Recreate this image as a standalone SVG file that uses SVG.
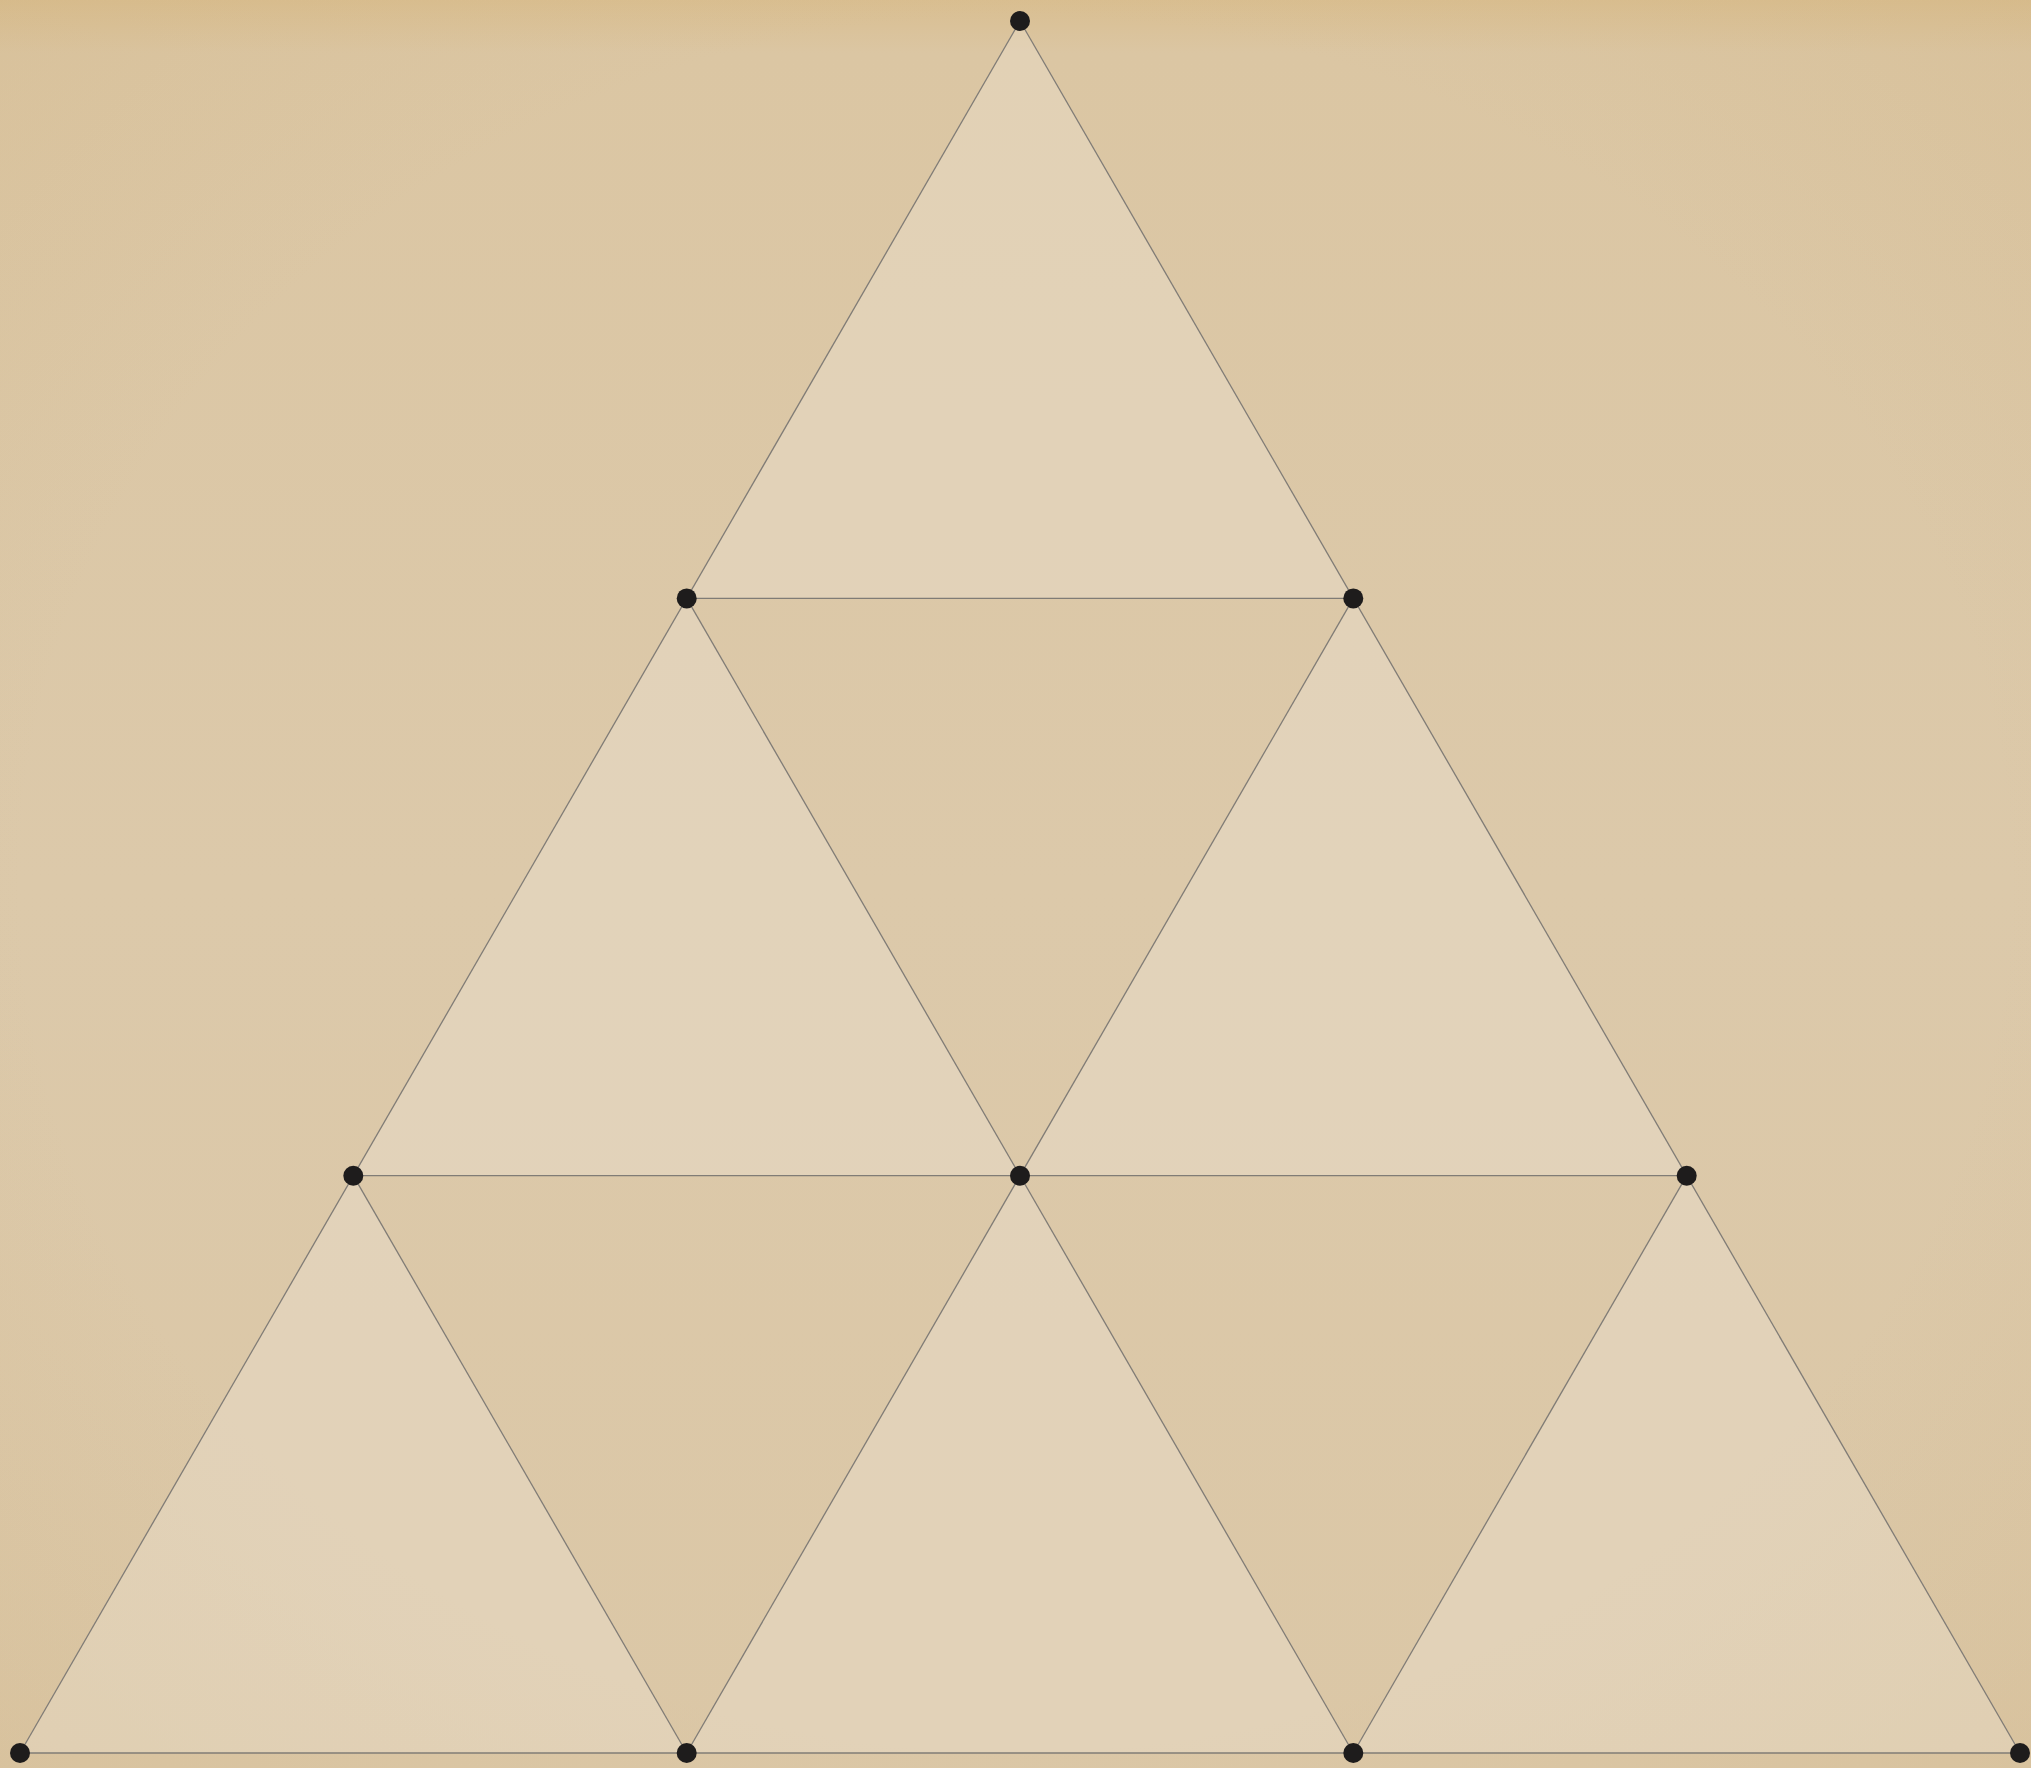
<svg xmlns="http://www.w3.org/2000/svg" width="2031" height="1768" viewBox="0 0 2031 1768">
<defs>
<linearGradient id="bg" x1="0" y1="0" x2="0" y2="1">
<stop offset="0" stop-color="#d9be90"/>
<stop offset="0.03" stop-color="#dbc6a3"/>
<stop offset="0.5" stop-color="#dcc9aa"/>
<stop offset="1" stop-color="#dbc7a6"/>
</linearGradient>
<radialGradient id="vig" cx="0.5" cy="0.5" r="0.75">
<stop offset="0.65" stop-color="#c9a870" stop-opacity="0"/>
<stop offset="1" stop-color="#c9a870" stop-opacity="0.18"/>
</radialGradient>
</defs>
<style>
.up{fill:#f2ece0;fill-opacity:0.3;stroke:none}
.e{stroke:#807c76;stroke-width:1.3;fill:none}
.n{fill:#1e1c1c}
</style>
<rect width="2031" height="1768" fill="url(#bg)"/>
<rect width="2031" height="1768" fill="url(#vig)"/>
<g id="faces">
<polygon class="up" points="1020,21 686.7,598.4 1353.3,598.4"/>
<polygon class="up" points="686.7,598.4 353.3,1175.7 1020,1175.7"/>
<polygon class="up" points="1353.3,598.4 1020,1175.7 1686.7,1175.7"/>
<polygon class="up" points="353.3,1175.7 20,1753 686.7,1753"/>
<polygon class="up" points="1020,1175.7 686.7,1753 1353.3,1753"/>
<polygon class="up" points="1686.7,1175.7 1353.3,1753 2020,1753"/>
</g>
<g id="connectors">
<line class="e" x1="1020" y1="21" x2="20" y2="1753"/>
<line class="e" x1="1020" y1="21" x2="2020" y2="1753"/>
<line class="e" x1="20" y1="1753" x2="2020" y2="1753"/>
<line class="e" x1="686.7" y1="598.4" x2="1353.3" y2="598.4"/>
<line class="e" x1="353.3" y1="1175.7" x2="1686.7" y2="1175.7"/>
<line class="e" x1="686.7" y1="598.4" x2="1353.3" y2="1753"/>
<line class="e" x1="1353.3" y1="598.4" x2="686.7" y2="1753"/>
<line class="e" x1="353.3" y1="1175.7" x2="686.7" y2="1753"/>
<line class="e" x1="1686.7" y1="1175.7" x2="1353.3" y2="1753"/>
</g>
<g id="node-0"><circle class="n" cx="1020" cy="21" r="10"/></g>
<g id="node-1"><circle class="n" cx="686.7" cy="598.4" r="10"/></g>
<g id="node-2"><circle class="n" cx="1353.3" cy="598.4" r="10"/></g>
<g id="node-3"><circle class="n" cx="353.3" cy="1175.7" r="10"/></g>
<g id="node-4"><circle class="n" cx="1020" cy="1175.7" r="10"/></g>
<g id="node-5"><circle class="n" cx="1686.7" cy="1175.7" r="10"/></g>
<g id="node-6"><circle class="n" cx="20" cy="1753" r="10"/></g>
<g id="node-7"><circle class="n" cx="686.7" cy="1753" r="10"/></g>
<g id="node-8"><circle class="n" cx="1353.3" cy="1753" r="10"/></g>
<g id="node-9"><circle class="n" cx="2020" cy="1753" r="10"/></g>
</svg>
